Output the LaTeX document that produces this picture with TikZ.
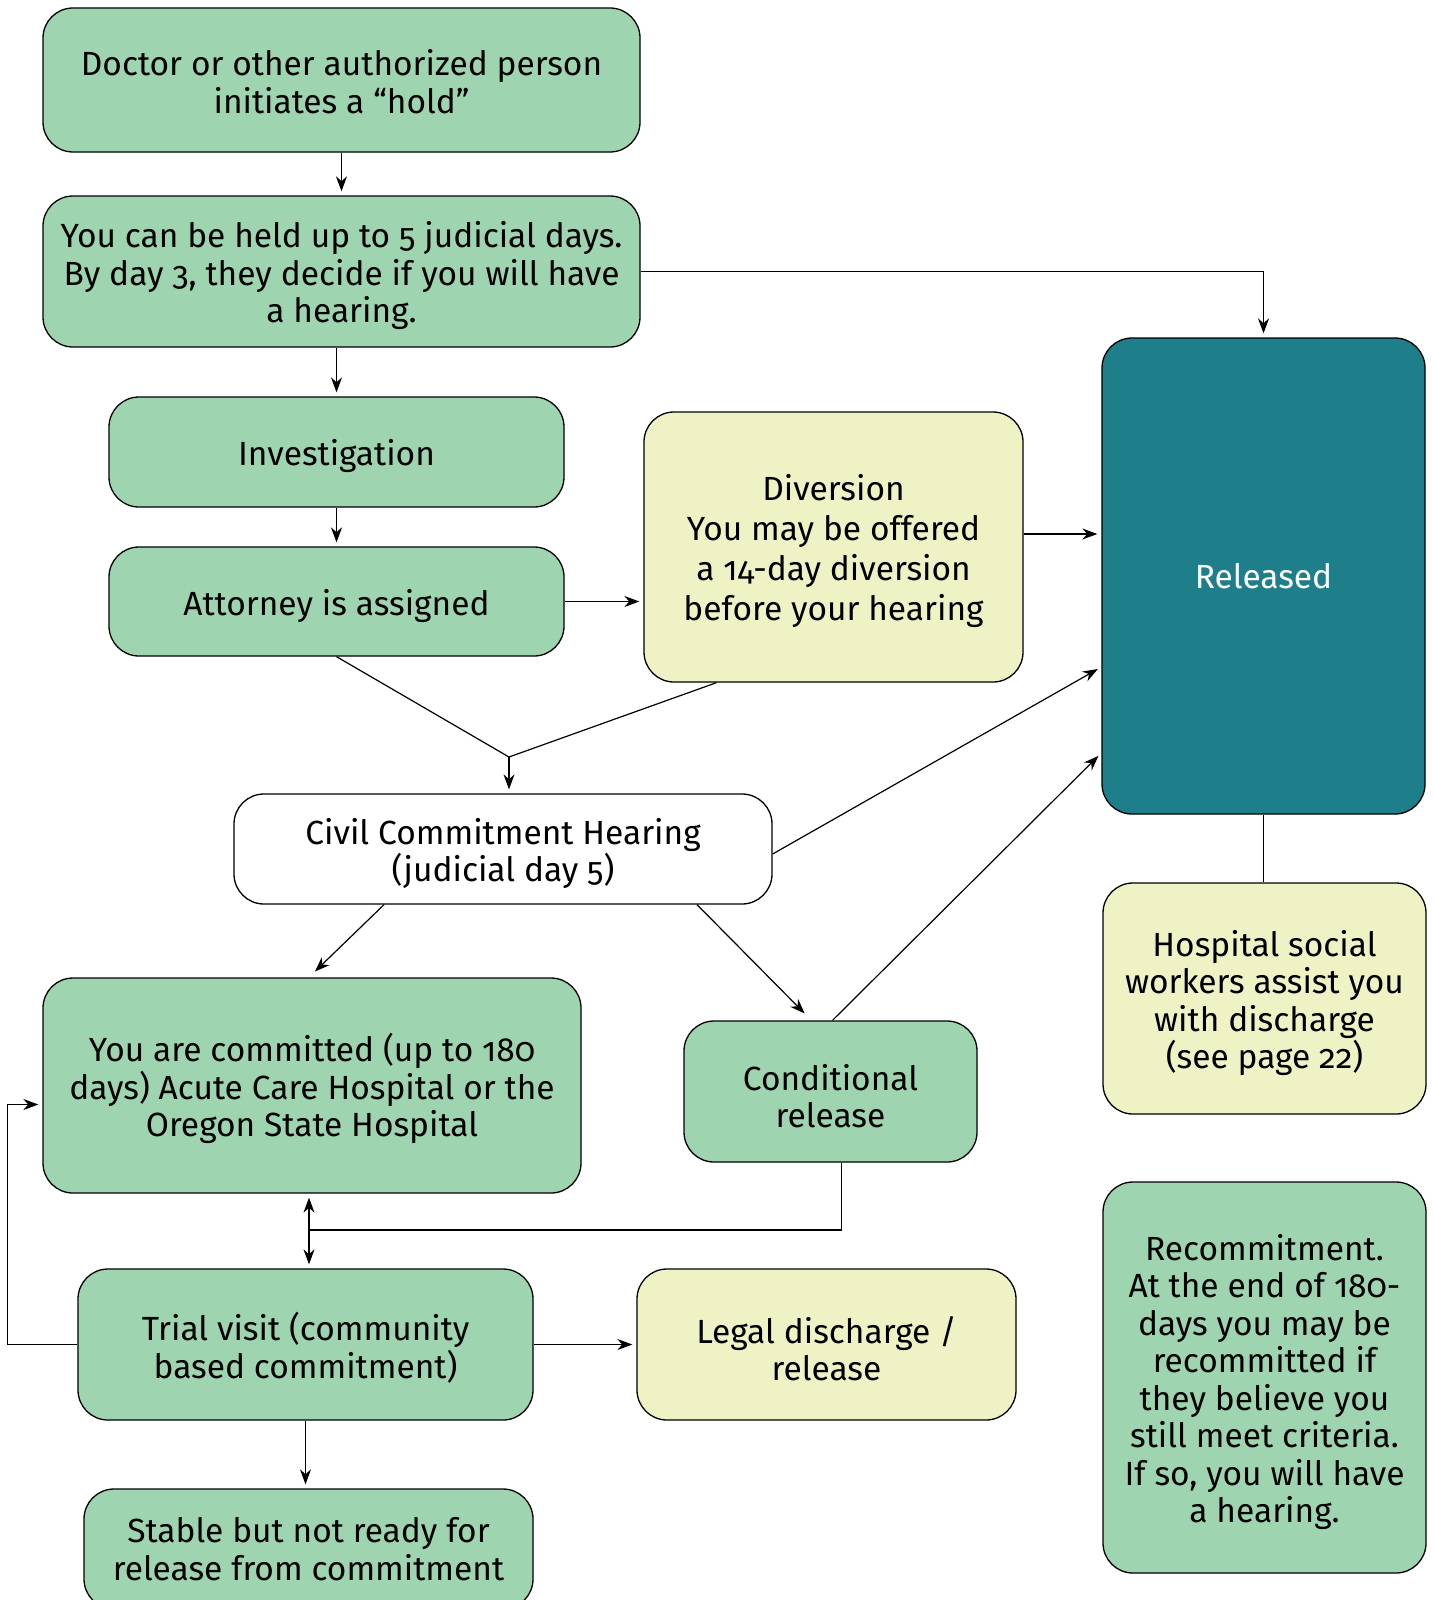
\documentclass[tikz,border=0pt]{standalone}
\usepackage{fontspec}
\setmainfont[Numbers=OldStyle]{Fira Sans}
\usetikzlibrary{arrows.meta,calc}
\definecolor{gbox}{HTML}{9ED5B0}
\definecolor{ybox}{HTML}{EEF2C4}
\definecolor{tbox}{HTML}{1E7F8B}
\newcommand\topstrut{\rule{0pt}{35pt}}
\newcommand\smallstrut{\rule{0pt}{29pt}}
\begin{document}
\begin{tikzpicture}[x=1pt,y=-1pt,
  box/.style={draw=black, line width=1.3pt, rounded corners=30pt, align=center,
     font=\fontsize{33.5}{37.5}\selectfont, inner sep=0pt},
  gb/.style={box, fill=gbox},
  yb/.style={box, fill=ybox},
  conn/.style={line width=1.2pt},
  arr/.style={conn, -{Stealth[length=15pt,width=11pt]}, shorten >=4pt},
  arrb/.style={conn, {Stealth[length=15pt,width=11pt]}-{Stealth[length=15pt,width=11pt]}, shorten >=4pt, shorten <=4pt}]
\useasboundingbox (0,0) rectangle (1434,1600);
\fill[white] (0,0) rectangle (1434,1600);

\node[gb, minimum width=597pt, minimum height=144pt] (box1) at (341.5,80) {\smallstrut Doctor or other authorized person\\initiates a “hold”};
\node[gb, minimum width=597pt, minimum height=151pt] (box2) at (341.5,271.5) {\topstrut You can be held up to 5 judicial days.\\By day 3, they decide if you will have\\a hearing.};
\node[gb, minimum width=455pt, minimum height=110pt] (inv) at (336.5,452) {\topstrut Investigation};
\node[gb, minimum width=455pt, minimum height=109pt] (att) at (336.5,601.5) {\topstrut Attorney is assigned};
\node[yb, minimum width=379pt, minimum height=270pt, font=\fontsize{33.5}{40}\selectfont] (div) at (833.5,547) {\topstrut Diversion\\You may be offered\\a 14-day diversion\\before your hearing};
\node[box, fill=tbox, text=white, minimum width=323pt, minimum height=476pt] (rel) at (1263.5,576) {Released};
\node[box, fill=white, minimum width=538pt, minimum height=110pt] (civ) at (503,849) {\topstrut Civil Commitment Hearing\\(judicial day 5)};
\node[gb, minimum width=538pt, minimum height=215pt] (com) at (312,1085.5) {\topstrut You are committed (up to 180\\days) Acute Care Hospital or the\\Oregon State Hospital};
\node[gb, minimum width=293pt, minimum height=141pt] (cond) at (830.5,1091.5) {\topstrut Conditional\\release};
\node[yb, minimum width=323pt, minimum height=231pt] (hosp) at (1264.5,998.5) {\topstrut Hospital social\\workers assist you\\with discharge\\(see page 22)};
\node[gb, minimum width=455pt, minimum height=151pt] (trial) at (305.5,1344.5) {\topstrut Trial visit (community\\based commitment)};
\node[yb, minimum width=379pt, minimum height=151pt] (legal) at (826.5,1344.5) {\topstrut Legal discharge /\\release};
\node[gb, minimum width=449pt, minimum height=120pt] (stable) at (308.5,1549) {Stable but not ready for\\release from commitment};
\node[gb, minimum width=323pt, minimum height=391pt] (recom) at (1264.5,1377.5) {\topstrut Recommitment.\\At the end of 180-\\days you may be\\recommitted if\\they believe you\\still meet criteria.\\If so, you will have\\a hearing.};

% connectors
\draw[arr] (box1.south) -- (box1.south |- box2.north);
\draw[arr] (inv.north |- box2.south) -- (inv.north);
\draw[arr] (box2.east) -| (rel.north);
\draw[arr] (inv.south) -- (att.north);
\draw[arr] (att.east) -- (att.east -| div.west);
\draw[arr] ($(div.east)+(0,-13)$) -- ($(rel.west)+(0,-42)$);
\coordinate (j) at (509,757);
\draw[conn] (att.south) -- (j);
\draw[conn] ($(div.south)+(-117,0)$) -- (j);
\draw[arr] (j) -- (j |- civ.north);
\draw[arr] ($(civ.east)+(0,5)$) -- ($(rel.west)+(0,91)$);
\draw[arr] ($(cond.north)+(2,0)$) -- ($(rel.west)+(0,177)$);
\draw[arr] ($(civ.south)+(-119,0)$) -- ($(com.north)+(0,-3)$);
\draw[arr] ($(civ.south)+(194,0)$) -- ($(cond.north)+(-23,-4)$);
\draw[conn] (rel.south) -- (rel.south |- hosp.north);
\coordinate (m) at (309,1230);
\draw[conn] ($(cond.south)+(11,0)$) |- (m);
\draw[arrb] (com.south -| m) -- (trial.north -| m);
\draw[arr] (trial.west) -- ++(-70,0) |- ($(com.west)+(0,19)$);
\draw[arr] (trial.east) -- (trial.east -| legal.west);
\draw[arr] (trial.south) -- (trial.south |- stable.north);
\end{tikzpicture}
\end{document}
